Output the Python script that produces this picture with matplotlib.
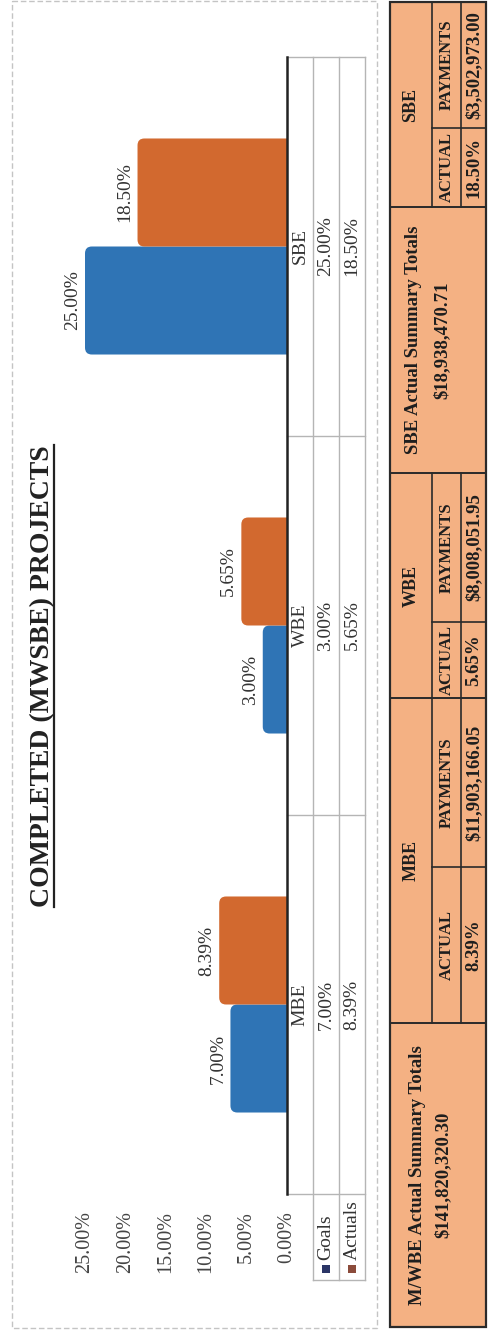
import matplotlib
matplotlib.use('Agg')
import numpy as np
import matplotlib.pyplot as plt
from matplotlib.patches import Rectangle, FancyBboxPatch
from matplotlib.transforms import blended_transform_factory

categories = ['MBE', 'WBE', 'SBE']
series_names = ['Goals', 'Actuals']
goals = [7.00, 3.00, 25.00]
actuals = [8.39, 5.65, 18.50]
ticks = [0, 5, 10, 15, 20, 25]

payments = ['$11,903,166.05', '$8,008,051.95', '$3,502,973.00']
mwbe_total_label = 'M/WBE Actual Summary Totals'
mwbe_total = '$141,820,320.30'
sbe_total_label = 'SBE Actual Summary Totals'
sbe_total = '$18,938,470.71'
title = 'COMPLETED (MWSBE) PROJECTS'

blue = '#2F74B5'
orange = '#D2692F'
key_colors = ['#2B3566', '#8B4B3B']
peach = '#F4B183'
ink = '#2a2a2a'

plt.rcParams['font.family'] = ['Liberation Serif', 'DejaVu Serif']

W, H = 488, 1331
fig = plt.figure(figsize=(W / 100, H / 100), dpi=100)


def px(x0, y0, x1, y1):
    # pixel box, origin top-left -> figure fraction rect
    return [x0 / W, 1 - y1 / H, (x1 - x0) / W, (y1 - y0) / H]


# overlay axes in pixel coordinates for frames and tables
ov = fig.add_axes([0, 0, 1, 1])
ov.set_xlim(0, W)
ov.set_ylim(H, 0)
ov.axis('off')

# the chart itself, drawn sideways (page is rotated)
ax = fig.add_axes(px(85, 57, 287, 1194))
ax.patch.set_alpha(0)
ax.set_xlim(25, 0)
ax.set_ylim(-0.5, 2.5)
y = np.arange(len(categories))
h = 0.285
gb = ax.barh(y - h / 2, goals, height=h, color=blue)
ab = ax.barh(y + h / 2, actuals, height=h, color=orange)

# rounded tips
asp = (1 / 379) / (1 / 8.08)
for bars in (gb, ab):
    for r in bars:
        r.set_visible(False)
        p = FancyBboxPatch((r.get_x() - 2, r.get_y()), r.get_width() + 2, r.get_height(),
                           boxstyle='round,pad=0,rounding_size=0.85', mutation_aspect=asp,
                           fc=r.get_facecolor(), ec='none')
        ax.add_patch(p)

for vals, off in ((goals, -h / 2), (actuals, h / 2)):
    for i, v in enumerate(vals):
        ax.annotate(f'{v:.2f}%', (v, i + off), xytext=(-4, 0), textcoords='offset pixels',
                    rotation=90, ha='right', va='center', fontsize=14, color='#333333')

ax.set_xticks(ticks)
ax.set_xticklabels([f'{t:.2f}%' for t in ticks], rotation=90, fontsize=14.5,
                   color='#444444')
ax.tick_params(axis='x', length=0, pad=12)
ax.set_yticks([])
for s in ['left', 'top', 'bottom']:
    ax.spines[s].set_visible(False)
ax.spines['right'].set_linewidth(1.8)
ax.spines['right'].set_color('#222222')

# outer chart frame
ov.add_patch(Rectangle((12, 1), 365, 1327, fill=False, ec='#c4c4c4', lw=1, ls=(0, (4, 2))))

# title with underline
t = ov.text(43, 676, title, rotation=90, ha='center', va='center', fontsize=20,
            fontweight='bold', color='#222222')

# data table under the chart
tb = blended_transform_factory(ov.transData, ax.transData)
grid = '#b5b5b5'
leg_end = -0.5 - 86 / 379
for b in [-0.5, 0.5, 1.5, 2.5]:
    ov.plot([287, 365], [b, b], color=grid, lw=1, transform=tb)
ov.plot([313, 365], [leg_end, leg_end], color=grid, lw=1, transform=tb)
for xl in [313, 339, 365]:
    ov.plot([xl, xl], [leg_end, 2.5], color=grid, lw=1, transform=tb)
for i, c in enumerate(categories):
    ov.text(300, i, c, rotation=90, ha='center', va='center', fontsize=14, color='#333333', transform=tb)
    ov.text(326, i, f'{goals[i]:.2f}%', rotation=90, ha='center', va='center', fontsize=14,
            color='#333333', transform=tb)
    ov.text(352, i, f'{actuals[i]:.2f}%', rotation=90, ha='center', va='center', fontsize=14,
            color='#333333', transform=tb)
for k, (name, kc) in enumerate(zip(series_names, key_colors)):
    xc = 326 + 26 * k
    ov.add_patch(Rectangle((xc - 4, 1265), 8, 8, fc=kc, ec='none'))
    ov.text(xc, 1260, name, rotation=90, ha='center', va='bottom', fontsize=14, color='#333333')

# summary table
ov.add_patch(Rectangle((390, 2), 96, 1325, fc=peach, ec=ink, lw=1.6))
for yl in [207, 473, 698, 1023]:
    ov.plot([390, 486], [yl, yl], color=ink, lw=1.4)
blocks = [(2, 128, 207), (473, 622, 698), (698, 867, 1023)]  # payments | actual split
kw = dict(rotation=90, ha='center', va='center', fontweight='bold', color='#1e1e1e')
for (ya, ym, yb), ci in zip(blocks, [2, 1, 0]):
    ov.plot([432, 432], [ya, yb], color=ink, lw=1.2)
    ov.plot([461, 461], [ya, yb], color=ink, lw=1.2)
    ov.plot([432, 486], [ym, ym], color=ink, lw=1.2)
    ov.text(411, (ya + yb) / 2, categories[ci], fontsize=13, **kw)
    ov.text(447, (ym + yb) / 2, 'ACTUAL', fontsize=12, **kw)
    ov.text(447, (ya + ym) / 2, 'PAYMENTS', fontsize=12, **kw)
    ov.text(474, (ym + yb) / 2, f'{actuals[ci]:.2f}%', fontsize=13.5, **kw)
    ov.text(474, (ya + ym) / 2, payments[ci], fontsize=13.5, **kw)

ov.text(414, 340, sbe_total_label, fontsize=13.5, **kw)
ov.text(442, 340, sbe_total, fontsize=13.5, **kw)
ov.text(417, 1175, mwbe_total_label, fontsize=13.5, **kw)
ov.text(443, 1175, mwbe_total, fontsize=13.5, **kw)

fig.canvas.draw()
bb = t.get_window_extent()
inv = ov.transData.inverted()
(x0, y0), (x1, y1) = inv.transform([[bb.x0, bb.y0], [bb.x1, bb.y1]])
ov.plot([54, 54], [y0, y1], color='#222222', lw=1.6)

fig.savefig('out.png', dpi=100)
